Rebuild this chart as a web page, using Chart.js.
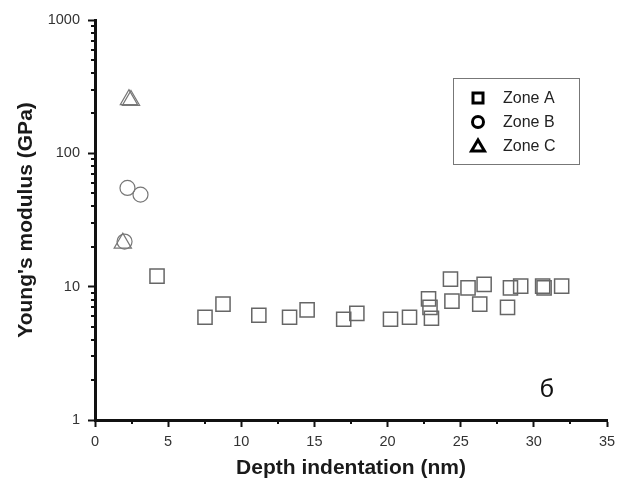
<!DOCTYPE html>
<html>
<head>
<meta charset="utf-8">
<script src="https://cdn.jsdelivr.net/npm/chart.js@4/dist/chart.umd.min.js"></script>
<style>
  body { margin: 0; background: #fff; }
  #wrap { width: 627px; height: 481px; }
</style>
</head>
<body>
<div id="wrap"><canvas id="modulusChart" width="627" height="481"></canvas></div>
<script>
// values
const zoneAX = [4.24, 7.52, 8.75, 11.2, 13.3, 14.5, 17.0, 17.9, 20.2, 21.5, 22.8, 22.9, 23.0, 24.3, 24.4, 25.5, 26.3, 26.6, 28.2, 28.4, 29.1, 30.6, 30.7, 31.9]
const zoneAY = [12.0, 5.9, 7.4, 6.1, 5.9, 6.7, 5.7, 6.3, 5.7, 5.9, 8.1, 7.0, 5.8, 11.4, 7.8, 9.8, 7.4, 10.4, 7.0, 9.8, 10.1, 10.1, 9.8, 10.1]
const zoneBX = [2.22, 3.11, 2.02]
const zoneBY = [55, 49, 21.8]
const zoneCX = [2.32, 2.46, 1.9]
const zoneCY = [253, 249, 21.2]
const xTicks = [0, 5, 10, 15, 20, 25, 30, 35]
const yTicks = [1, 10, 100, 1000]
const zoneLabels = ['Zone A', 'Zone B', 'Zone C']
const panelLabel = 'б'

const toPoints = (xs, ys) => xs.map((x, i) => ({ x: x, y: ys[i] }))

const minorTicks = {
    id: 'minorTicks',
    afterDraw(chart) {
        const ctx = chart.ctx
        const x = chart.scales.x
        const y = chart.scales.y
        ctx.save()
        ctx.strokeStyle = '#111'
        ctx.lineWidth = 2
        ctx.beginPath()
        for (let d = 1; d < 1000; d *= 10) {
            for (let k = 2; k <= 9; k++) {
                const py = Math.round(y.getPixelForValue(d * k))
                ctx.moveTo(y.right - 4, py)
                ctx.lineTo(y.right, py)
            }
        }
        for (let v = 2.5; v < 35; v += 5) {
            const px = Math.round(x.getPixelForValue(v))
            ctx.moveTo(px, x.top)
            ctx.lineTo(px, x.top + 4)
        }
        ctx.stroke()
        ctx.restore()
    }
}

const boxLegend = {
    id: 'boxLegend',
    afterDraw(chart) {
        const ctx = chart.ctx
        ctx.save()
        ctx.strokeStyle = '#777'
        ctx.lineWidth = 1
        ctx.strokeRect(453.5, 78.5, 126, 86)
        ctx.font = '16px "Liberation Sans", Arial, sans-serif'
        ctx.textBaseline = 'middle'
        chart.data.datasets.forEach((ds, i) => {
            const cx = 478
            const cy = 98 + i * 24
            ctx.strokeStyle = '#000'
            ctx.lineWidth = 3
            ctx.beginPath()
            if (ds.pointStyle === 'rect') {
                ctx.rect(cx - 5, cy - 5, 10, 10)
            } else if (ds.pointStyle === 'circle') {
                ctx.arc(cx, cy, 5.5, 0, Math.PI * 2)
            } else {
                ctx.moveTo(cx, cy - 6)
                ctx.lineTo(cx + 6.5, cy + 5)
                ctx.lineTo(cx - 6.5, cy + 5)
                ctx.closePath()
            }
            ctx.stroke()
            ctx.fillStyle = '#222'
            ctx.fillText(ds.label, 503, cy + 1)
        })
        ctx.font = '24px "Noto Sans", "DejaVu Sans", sans-serif'
        ctx.textAlign = 'center'
        ctx.fillStyle = '#111'
        ctx.fillText(panelLabel, 547, 390)
        ctx.restore()
    }
}

const tickFont = { family: '"Liberation Sans", Arial, sans-serif', size: 14.5 }
const titleFont = { family: '"Liberation Sans", Arial, sans-serif', size: 21, weight: 'bold' }

new Chart(document.getElementById('modulusChart'), {
    type: 'scatter',
    data: {
        datasets: [{
            label: zoneLabels[0],
            data: toPoints(zoneAX, zoneAY),
            pointStyle: 'rect',
            pointRadius: 10,
            pointBorderWidth: 1.5,
            borderColor: '#666',
            backgroundColor: 'rgba(0,0,0,0)'
        }, {
            label: zoneLabels[1],
            data: toPoints(zoneBX, zoneBY),
            pointStyle: 'circle',
            pointRadius: 7.5,
            pointBorderWidth: 1.2,
            borderColor: '#777',
            backgroundColor: 'rgba(0,0,0,0)'
        }, {
            label: zoneLabels[2],
            data: toPoints(zoneCX, zoneCY),
            pointStyle: 'triangle',
            pointRadius: 10,
            pointBorderWidth: 1.2,
            borderColor: '#777',
            backgroundColor: 'rgba(0,0,0,0)'
        }]
    },
    options: {
        responsive: false,
        animation: false,
        layout: { padding: { top: 20, right: 20, left: 0, bottom: 0 } },
        plugins: {
            legend: { display: false },
            tooltip: { enabled: false }
        },
        scales: {
            x: {
                type: 'linear',
                min: 0,
                max: 35,
                afterBuildTicks: scale => { scale.ticks = xTicks.map(v => ({ value: v })) },
                afterFit: scale => { scale.height = 61 },
                border: { display: true, color: '#111', width: 3 },
                grid: { drawOnChartArea: false, drawTicks: true, tickLength: 7, tickWidth: 2, tickColor: '#111' },
                ticks: { color: '#333', font: tickFont, padding: 6 },
                title: { display: true, text: 'Depth indentation (nm)', color: '#1a1a1a', font: titleFont, padding: { top: 0, bottom: 0 } }
            },
            y: {
                type: 'logarithmic',
                min: 1,
                max: 1000,
                afterBuildTicks: scale => { scale.ticks = yTicks.map(v => ({ value: v })) },
                afterFit: scale => { scale.width = 95 },
                border: { display: true, color: '#111', width: 3 },
                grid: { drawOnChartArea: false, drawTicks: true, tickLength: 7, tickWidth: 2, tickColor: '#111' },
                ticks: { color: '#333', font: tickFont, padding: 8, callback: v => String(v) },
                title: { display: true, text: "Young's modulus (GPa)", color: '#1a1a1a', font: titleFont, padding: { top: 14, bottom: 0 } }
            }
        }
    },
    plugins: [minorTicks, boxLegend]
})
</script>
</body>
</html>
